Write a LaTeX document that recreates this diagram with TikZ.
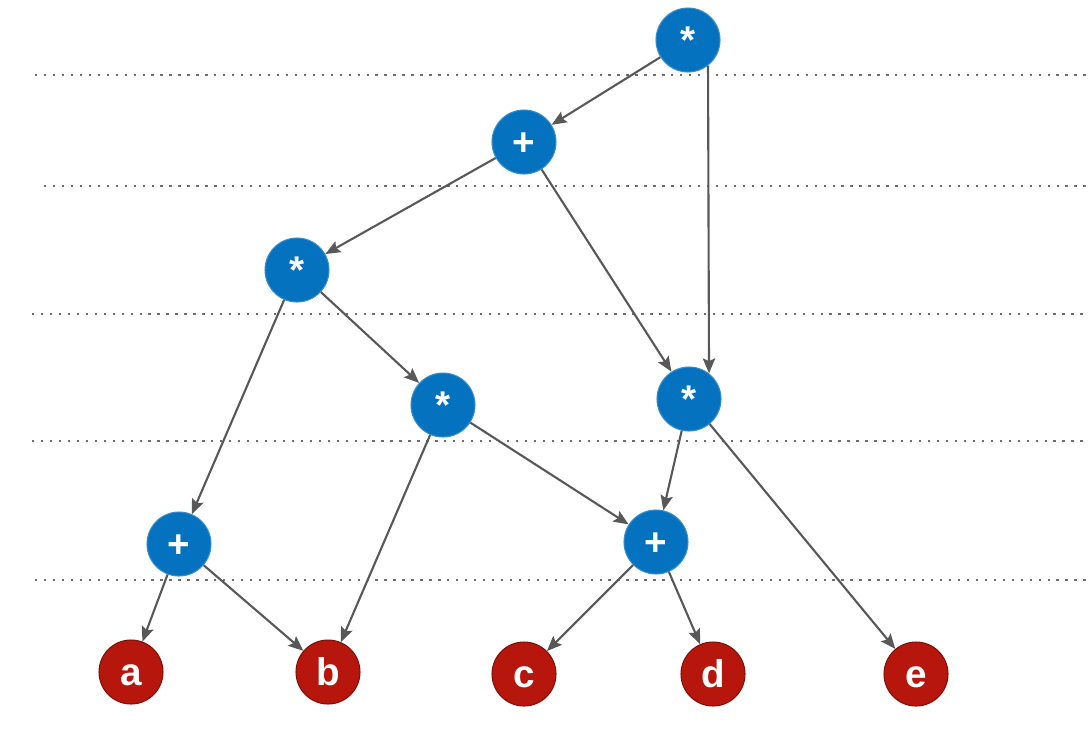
\documentclass[tikz,border=0pt]{standalone}
\usepackage{fontspec}
\setmainfont{Liberation Sans}
\usetikzlibrary{arrows.meta}
\definecolor{opblue}{RGB}{5,114,192}
\definecolor{leafred}{RGB}{182,22,12}
\definecolor{linkgray}{RGB}{88,88,88}
\definecolor{dotgray}{RGB}{110,110,110}

\begin{document}
\begin{tikzpicture}[x=0.02cm,y=-0.02cm,
    opnode/.style={circle,fill=opblue,draw=opblue!80!white,line width=0.6pt,minimum size=1.28cm,inner sep=0pt,
                   text height=15pt,text depth=0pt,text=white,font=\fontsize{22}{24}\selectfont\bfseries},
    leafnode/.style={circle,fill=leafred,draw=leafred!70!black,line width=0.6pt,minimum size=1.28cm,inner sep=0pt,
                     text height=15pt,text depth=0pt,text=white,font=\fontsize{22}{24}\selectfont\bfseries},
    link/.style={-{Stealth[length=8.5pt,width=7pt,inset=1.5pt]},linkgray,line width=1.2pt},
    level/.style={dotgray,line width=1.3pt,dash pattern=on 1.3pt off 3.8pt}]
  \useasboundingbox (0,0) rectangle (1089,738);
  % ---- level separators
  \draw[level] (35,75) -- (1089,75);
  \draw[level] (44,186) -- (1089,186);
  \draw[level] (32,314) -- (1089,314);
  \draw[level] (32,441) -- (1089,441);
  \draw[level] (35,580) -- (1089,580);
  % ---- operators
  \node[opnode] (root) at (688,40) {*};
  \node[opnode] (sum1) at (524,142) {+};
  \node[opnode] (mulL) at (297,270) {*};
  \node[opnode] (mulM) at (443,405) {*};
  \node[opnode] (mulR) at (689,399) {*};
  \node[opnode] (sumL) at (179,544) {+};
  \node[opnode] (sumR) at (656,542) {+};
  % ---- leaves
  \node[leafnode] (a) at (131,672) {a};
  \node[leafnode] (b) at (328,672) {b};
  \node[leafnode] (c) at (524,674) {c};
  \node[leafnode] (d) at (713,674) {d};
  \node[leafnode] (e) at (916,674) {e};
  % ---- edges
  \draw[link] (root) -- (sum1);
  \draw[link] (root.-52) -- (mulR.52);
  \draw[link] (sum1) -- (mulL);
  \draw[link] (sum1) -- (mulR);
  \draw[link] (mulL) -- (sumL);
  \draw[link] (mulL) -- (mulM);
  \draw[link] (mulM) -- (b);
  \draw[link] (mulM) -- (sumR);
  \draw[link] (mulR) -- (sumR);
  \draw[link] (mulR) -- (e);
  \draw[link] (sumL) -- (a);
  \draw[link] (sumL) -- (b);
  \draw[link] (sumR) -- (c);
  \draw[link] (sumR) -- (d);
\end{tikzpicture}
\end{document}
